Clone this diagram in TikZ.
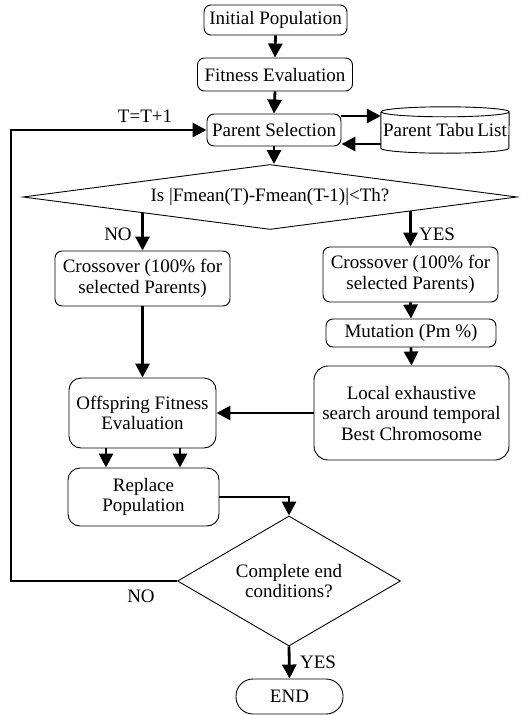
\documentclass[tikz,border=0pt]{standalone}
\usepackage{fontspec}
\setmainfont{Liberation Serif}
\usetikzlibrary{shapes.geometric,arrows.meta,calc}
\begin{document}
\begin{tikzpicture}[x=1pt,y=-1pt,
  txt/.style={font=\fontsize{19}{20.5}\selectfont},
  box/.style={txt,draw,line width=0.9pt,rounded corners=7pt,align=center,inner sep=1pt},
  dec/.style={txt,draw,line width=0.9pt,shape=diamond,inner sep=0pt,align=center},
  arr/.style={line width=2.8pt,-{Triangle[length=14pt,width=14pt]}},
  thinline/.style={line width=0.9pt}]
\useasboundingbox (0,0) rectangle (520,715);

\node[box,minimum width=143pt,minimum height=30pt] (init) at (275.5,20) {Initial Population};
\node[box,minimum width=155pt,minimum height=33pt] (fit) at (275,74.5) {Fitness Evaluation};
\node[box,minimum width=134pt,minimum height=32pt] (ps) at (274,130) {Parent Selection};
\node[txt,minimum width=128pt,minimum height=36pt,inner sep=0pt] (tabu) at (445,130) {Parent Tabu\,List};
\draw[thinline] (tabu.north west) -- (tabu.south west)
  arc[start angle=180,end angle=360,x radius=64pt,y radius=5pt] -- (tabu.north east)
  arc[start angle=0,end angle=360,x radius=64pt,y radius=5pt];

\node[dec,aspect=7.6,minimum width=494pt,minimum height=65pt] (d1) at (270,197) {Is |Fmean(T)-Fmean(T-1)|<Th?};

\node[box,minimum width=175pt,minimum height=55pt] (cx1) at (142.5,278.5) {Crossover (100\% for\\selected Parents)};
\node[box,minimum width=175pt,minimum height=55pt] (cx2) at (410.5,274.5) {Crossover (100\% for\\selected Parents)};
\node[box,minimum width=170pt,minimum height=28pt] (mut) at (411,333) {Mutation (Pm \%)};
\node[box,rounded corners=14pt,minimum width=195pt,minimum height=94pt] (loc) at (411.5,413) {Local exhaustive\\search around temporal\\Best Chromosome};
\node[box,rounded corners=12pt,minimum width=147pt,minimum height=70pt] (off) at (142.5,413) {Offspring Fitness\\Evaluation};
\node[box,rounded corners=12pt,minimum width=151pt,minimum height=58pt] (rep) at (143.5,497) {Replace\\Population};

\node[dec,aspect=1.7,minimum width=223pt,minimum height=130pt] (d2) at (289,581) {Complete end\\conditions?};
\node[box,rounded corners=17pt,minimum width=107pt,minimum height=35pt] (endn) at (289.5,696.5) {END};

\coordinate (lp) at (11,581);

% connectors
\draw[arr] (init.south) -- (fit.north);
\draw[arr] (fit.south) -- (ps.north);
\draw[arr] (ps.south) -- (ps.south |- d1.north);
\draw[arr] ([yshift=14pt]ps.east) -- ([yshift=14pt]ps.east -| tabu.west);
\draw[arr] ([yshift=-14pt]tabu.west) -- ([yshift=-14pt]tabu.west -| ps.east);
\draw[arr] (intersection of d1.west--d1.south and cx1.north--cx1.center) -- (cx1.north);
\draw[arr] (intersection of d1.east--d1.south and cx2.north--cx2.center) -- (cx2.north);
\draw[arr] (cx1.south) -- (off.north);
\draw[arr] (cx2.south) -- (mut.north);
\draw[arr] (mut.south) -- (loc.north);
\draw[arr] (loc.west) -- (loc.west -| off.east);
\draw[arr] ([xshift=-36.5pt]off.south) -- ([xshift=-37.5pt]rep.north);
\draw[arr] ([xshift=37.5pt]off.south) -- ([xshift=36.5pt]rep.north);
\draw[arr] (rep.east) -| (d2.north);
\draw[arr] (d2.west) -- (lp) |- (ps.west);
\draw[arr] (d2.south) -- (endn.north);

% labels
\node[txt] (tl) at (145,116) {T=T+1};
\node[txt] (no1) at (118,234) {NO};
\node[txt] (yes1) at (437,234) {YES};
\node[txt] (no2) at (141,596) {NO};
\node[txt] (yes2) at (318,662) {YES};
\end{tikzpicture}
\end{document}
